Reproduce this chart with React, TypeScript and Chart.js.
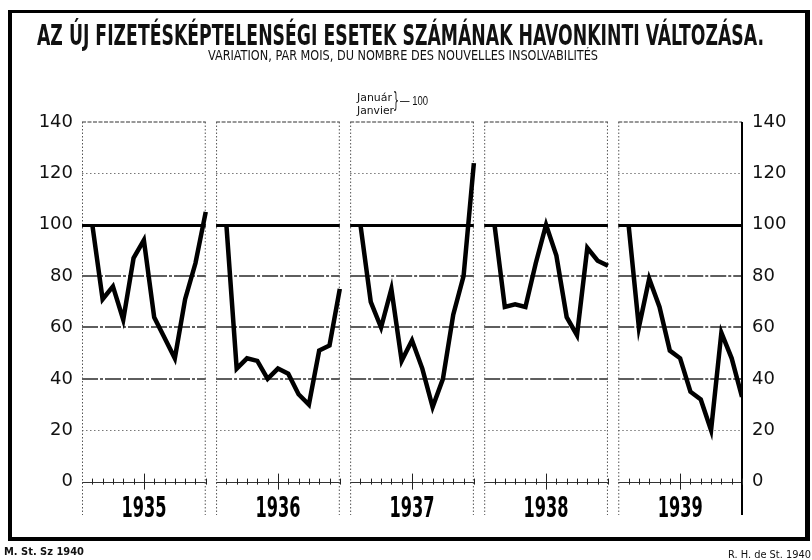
import React, { useEffect, useLayoutEffect, useRef } from 'react';
import { Chart, registerables } from 'chart.js';

Chart.register(...registerables);

// ---- data ----
const YEARS = ['1935', '1936', '1937', '1938', '1939'];
const MONTHS = ['I', 'II', 'III', 'IV', 'V', 'VI', 'VII', 'VIII', 'IX', 'X', 'XI', 'XII'];
const V1935 = [100, 71, 76, 63, 87, 94, 64, 56, 48, 71, 85, 105];
const V1936 = [100, 44, 48, 47, 40, 44, 42, 34, 30, 51, 53, 75];
const V1937 = [100, 70, 60, 75, 47, 55, 44, 29, 40, 65, 80, 124];
const V1938 = [100, 68, 69, 68, 85, 100, 88, 64, 57, 91, 86, 84];
const V1939 = [100, 60, 79, 68, 51, 48, 35, 32, 20, 58, 48, 33];
const SERIES = [V1935, V1936, V1937, V1938, V1939];
const Y_TICKS = [0, 20, 40, 60, 80, 100, 120, 140];
const BASE = 100;
const Y_MIN = -13;
const Y_MAX = 140;
const SLOT = MONTHS.length + 1; // 12 months + 1 gap unit

const NARROW = '"Liberation Sans Narrow", "DejaVu Sans Condensed", "Liberation Sans", sans-serif';

const panelPlugin = {
  id: 'panels',
  beforeDatasetsDraw(chart: any) {
    const { ctx } = chart;
    const xs = chart.scales.x;
    const ys = chart.scales.y;
    const top = ys.getPixelForValue(Y_MAX);
    const bot = ys.getPixelForValue(Y_MIN);
    YEARS.forEach((_, k) => {
      const x0 = xs.getPixelForValue(k * SLOT);
      const x1 = xs.getPixelForValue(k * SLOT + MONTHS.length);
      const hline = (v: number, w: number, color: string, dash: number[]) => {
        const py = Math.round(ys.getPixelForValue(v)) + (w % 2 === 1 ? 0.5 : 0);
        ctx.save();
        ctx.beginPath();
        ctx.setLineDash(dash);
        ctx.lineWidth = w;
        ctx.strokeStyle = color;
        ctx.moveTo(x0, py);
        ctx.lineTo(x1, py);
        ctx.stroke();
        ctx.restore();
      };
      const vline = (px: number, w: number, color: string, dash: number[], yTop: number) => {
        ctx.save();
        ctx.beginPath();
        ctx.setLineDash(dash);
        ctx.lineWidth = w;
        ctx.strokeStyle = color;
        ctx.moveTo(px, yTop);
        ctx.lineTo(px, bot);
        ctx.stroke();
        ctx.restore();
      };
      hline(120, 1, '#777', [1.5, 2.5]);
      hline(20, 1, '#777', [1.5, 2.5]);
      [80, 60, 40].forEach((v) => hline(v, 1.3, '#2a2a2a', [16, 2, 3, 2]));
      hline(Y_MAX, 1.2, '#333', [4, 1.5]);
      hline(0, 1, '#333', []);
      vline(x0 + 0.5, 1, '#555', [1.5, 2], top);
      if (k === YEARS.length - 1) {
        vline(x1, 2, '#000', [], top);
      } else {
        vline(x1 - 0.5, 1, '#555', [1.5, 2], top);
      }
      // month ticks on zero line
      const y0 = ys.getPixelForValue(0);
      ctx.save();
      ctx.strokeStyle = '#222';
      ctx.lineWidth = 1;
      for (let m = 1; m <= MONTHS.length; m++) {
        const px = Math.round(xs.getPixelForValue(k * SLOT + m)) + 0.5;
        const h = m === 6 ? 8 : 3;
        ctx.beginPath();
        ctx.moveTo(px, y0 - h);
        ctx.lineTo(px, y0 + h);
        ctx.stroke();
      }
      ctx.restore();
      hline(BASE, 3, '#000', []);
    });
  },
  afterDraw(chart: any) {
    const { ctx } = chart;
    const xs = chart.scales.x;
    const ys = chart.scales.y;
    YEARS.forEach((yr, k) => {
      ctx.save();
      ctx.font = 'bold 28px ' + NARROW;
      const w = ctx.measureText(yr).width;
      const cx = xs.getPixelForValue(k * SLOT + 6);
      const by = ys.getPixelForValue(0) + 35;
      ctx.translate(cx, by);
      ctx.scale(45 / w, 1);
      ctx.textAlign = 'center';
      ctx.textBaseline = 'alphabetic';
      ctx.fillStyle = '#000';
      ctx.fillText(yr, 0, 0);
      ctx.restore();
    });
  },
};

function Fit(props: { text: string; x: number; capTop: number; width: number; size: number; bold?: boolean; family?: string }) {
  const ref = useRef<HTMLSpanElement>(null);
  useLayoutEffect(() => {
    const el = ref.current;
    if (!el) return;
    el.style.transform = 'none';
    const w = el.getBoundingClientRect().width;
    if (w > 0) el.style.transform = `scaleX(${props.width / w})`;
  }, []);
  return (
    <span
      ref={ref}
      style={{
        position: 'absolute',
        left: props.x,
        top: props.capTop - 0.1175 * props.size,
        whiteSpace: 'nowrap',
        transformOrigin: '0 0',
        lineHeight: 1,
        fontSize: props.size,
        fontWeight: props.bold ? 700 : 400,
        fontFamily: props.family || NARROW,
        color: '#111',
      }}
    >
      {props.text}
    </span>
  );
}

export default function App() {
  const canvasRef = useRef<HTMLCanvasElement>(null);

  useEffect(() => {
    const canvas = canvasRef.current;
    if (!canvas) return;
    const yAxis = (pos: 'left' | 'right', width: number, pad: number) => ({
      position: pos,
      min: Y_MIN,
      max: Y_MAX,
      afterBuildTicks: (s: any) => {
        s.ticks = Y_TICKS.map((v) => ({ value: v }));
      },
      afterFit: (s: any) => {
        s.width = width;
      },
      grid: { display: false, drawTicks: false },
      border: { display: false },
      ticks: {
        padding: pad,
        color: '#111',
        font: { family: '"DejaVu Sans", sans-serif', size: 18 },
      },
    });
    const chart = new Chart(canvas, {
      type: 'line',
      data: {
        datasets: SERIES.map((vals, k) => ({
          label: YEARS[k],
          data: vals.map((v, m) => ({ x: k * SLOT + m + 1, y: v })),
          borderColor: '#000',
          borderWidth: 4.5,
          pointRadius: 0,
          tension: 0,
          fill: false,
          borderJoinStyle: 'miter',
          borderCapStyle: 'butt',
        })),
      },
      options: {
        animation: false,
        responsive: false,
        devicePixelRatio: 1,
        layout: { padding: { top: 122, bottom: 45, left: 0, right: 0 } },
        plugins: { legend: { display: false }, tooltip: { enabled: false }, title: { display: false } },
        scales: {
          x: { type: 'linear', min: 0, max: SLOT * YEARS.length - 1, display: false },
          y: yAxis('left', 82, 9),
          y2: yAxis('right', 70, 10),
        },
      } as any,
      plugins: [panelPlugin],
    });
    return () => chart.destroy();
  }, []);

  return (
    <div style={{ position: 'fixed', left: 0, top: 0, width: 812, height: 560, overflow: 'hidden', background: '#fff' }}>
      <div
        style={{
          position: 'absolute',
          left: 8,
          top: 10,
          width: 802,
          height: 531,
          boxSizing: 'border-box',
          borderStyle: 'solid',
          borderColor: '#000',
          borderWidth: '3px 5px 4px 4px',
        }}
      />
      <canvas ref={canvasRef} width={812} height={560} style={{ position: 'absolute', left: 0, top: 0, display: 'block' }} />
      <Fit text="AZ ÚJ FIZETÉSKÉPTELENSÉGI ESETEK SZÁMÁNAK HAVONKINTI VÁLTOZÁSA." x={37} capTop={25} width={727} size={28} bold />
      <Fit text="VARIATION, PAR MOIS, DU NOMBRE DES NOUVELLES INSOLVABILITÉS" x={208} capTop={50} width={390} size={14} />
      <Fit text="Január" x={357} capTop={93} width={35} size={11} />
      <Fit text="Janvier" x={357} capTop={106} width={37} size={11} />
      <Fit text="}" x={393} capTop={92} width={6} size={22} family='"DejaVu Sans", sans-serif' />
      <Fit text="— 100" x={400} capTop={96} width={28} size={12} family='"Liberation Sans", sans-serif' />
      <Fit text="M. St. Sz 1940" x={4} capTop={547} width={80} size={11} bold />
      <Fit text="R. H. de St. 1940" x={728} capTop={550} width={83} size={11} />
    </div>
  );
}
